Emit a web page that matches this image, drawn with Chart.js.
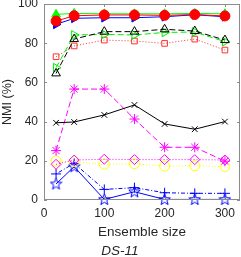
<!DOCTYPE html>
<html lang="en">
<head>
  <meta charset="UTF-8">
  <title>DS-11</title>
  <script src="https://cdn.jsdelivr.net/npm/chart.js"></script>
  <style>
    body { margin: 0; background: #fff; }
    #wrap { width: 241px; height: 257px; }
  </style>
</head>
<body>
<div id="wrap"><canvas id="nmiChart"></canvas></div>
<script>
  // ensemble sizes
  const ensembleSizes = [20, 50, 100, 150, 200, 250, 300];
  const xTicks = [0, 100, 200, 300];
  const yTicks = [0, 20, 40, 60, 80, 100];

  // NMI values
  const redCircle   = [91.3, 94.0, 94.4, 94.4, 94.2, 94.6, 93.9];
  const greenTri    = [94.7, 95.2, 95.0, 95.0, 95.0, 95.2, 95.0];
  const blueTri     = [89.6, 92.7, 93.0, 93.0, 93.5, 94.5, 93.5];
  const blackTri    = [64.6, 82.1, 85.9, 85.9, 87.1, 86.2, 81.6];
  const greenRight  = [67.5, 84.2, 84.5, 84.2, 85.5, 85.7, 80.8];
  const redSquare   = [73.1, 78.6, 81.6, 81.1, 79.9, 82.1, 76.5];
  const blackX      = [39.4, 39.8, 43.4, 48.5, 38.8, 36.1, 40.0];
  const magentaAst  = [25.2, 56.6, 56.6, 41.3, 26.9, 26.9, 19.8];
  const magentaDia  = [18.2, 20.4, 20.8, 20.6, 20.6, 20.6, 20.4];
  const yellowCirc  = [19.9, 19.6, 18.2, 18.5, 17.3, 17.5, 17.0];
  const bluePlus    = [13.3, 18.7, 5.4, 6.3, 3.7, 3.4, 3.4];
  const blueStar    = [8.2, 17.0, 0.3, 4.2, 0.3, 0.3, 0.3];

  // pentagram marker
  function makeStar(color) {
    const c = document.createElement('canvas');
    c.width = 13; c.height = 13;
    const g = c.getContext('2d');
    g.strokeStyle = color;
    g.lineWidth = 1;
    g.beginPath();
    for (let i = 0; i < 10; i++) {
      const r = i % 2 === 0 ? 6 : 2.5;
      const a = -Math.PI / 2 + i * Math.PI / 5;
      const px = 6.5 + r * Math.cos(a), py = 6.8 + r * Math.sin(a);
      if (i === 0) g.moveTo(px, py); else g.lineTo(px, py);
    }
    g.closePath();
    g.stroke();
    return c;
  }

  function series(data, color, style, opts) {
    return Object.assign({
      data: data.map((v, i) => ({ x: ensembleSizes[i], y: v })),
      borderColor: color,
      backgroundColor: 'transparent',
      pointBorderColor: color,
      pointBackgroundColor: 'transparent',
      borderWidth: 1,
      pointBorderWidth: 1,
      pointStyle: style,
      pointRadius: 4,
      borderDash: [],
      tension: 0,
      clip: 8
    }, opts || {});
  }

  // box with inward ticks like the original
  const boxPlugin = {
    id: 'box',
    afterDraw(chart) {
      const { ctx, chartArea: a, scales } = chart;
      ctx.save();
      ctx.strokeStyle = '#8c8c8c';
      ctx.lineWidth = 1;
      ctx.strokeRect(a.left + 0.5, a.top + 0.5, a.right - a.left - 1, a.bottom - a.top - 1);
      ctx.beginPath();
      xTicks.forEach(v => {
        const x = Math.round(scales.x.getPixelForValue(v)) + 0.5;
        ctx.moveTo(x, a.bottom); ctx.lineTo(x, a.bottom - 3);
        ctx.moveTo(x, a.top); ctx.lineTo(x, a.top + 3);
      });
      yTicks.forEach(v => {
        const y = Math.round(scales.y.getPixelForValue(v)) + 0.5;
        ctx.moveTo(a.left, y); ctx.lineTo(a.left + 3, y);
        ctx.moveTo(a.right, y); ctx.lineTo(a.right - 3, y);
      });
      ctx.stroke();
      ctx.restore();
    }
  };

  const font = 'Liberation Sans, Arial, sans-serif';

  new Chart(document.getElementById('nmiChart'), {
    type: 'line',
    data: {
      datasets: [
        series(redCircle, '#ff0000', 'circle', { pointBackgroundColor: '#ff0000', pointRadius: 5 }),
        series(greenTri, '#00ff00', 'triangle', { pointBackgroundColor: '#00ff00', pointRadius: 5 }),
        series(blueTri, '#0000ff', 'triangle', { pointBackgroundColor: '#0000ff', pointRadius: 5, pointRotation: 90 }),
        series(blackTri, '#000000', 'triangle', { borderDash: [6, 3], pointRadius: 5 }),
        series(greenRight, '#00ee00', 'triangle', { borderDash: [6, 3], pointRadius: 5, pointRotation: 90 }),
        series(redSquare, '#ff3030', 'rect', { borderDash: [1, 2] }),
        series(blackX, '#000000', 'crossRot', {}),
        series(magentaAst, '#ff00ff', 'star', { borderDash: [6, 3], pointRadius: 5 }),
        series(magentaDia, '#ff00ff', 'rectRot', { borderDash: [1, 2], pointRadius: 5 }),
        series(yellowCirc, '#ffff00', 'circle', { borderDash: [1, 2], pointRadius: 5 }),
        series(bluePlus, '#0000ff', 'cross', { borderDash: [1, 2, 4, 2], pointRadius: 5 }),
        series(blueStar, '#0000ff', makeStar('#0000ff'), {})
      ]
    },
    options: {
      responsive: true,
      maintainAspectRatio: false,
      animation: false,
      layout: { autoPadding: false, padding: { top: 4, right: 1, left: 0, bottom: 0 } },
      plugins: {
        legend: { display: false },
        tooltip: { enabled: false },
        title: {
          display: true,
          text: 'DS-11',
          position: 'bottom',
          color: '#262626',
          font: { family: font, size: 13.5, style: 'italic', weight: 'normal', lineHeight: 0.8 },
          padding: { top: 7, bottom: 0 }
        }
      },
      scales: {
        x: {
          type: 'linear',
          min: 0,
          max: 325,
          afterBuildTicks: axis => { axis.ticks = xTicks.map(v => ({ value: v })); },
          afterFit: axis => { axis.paddingLeft = 0; axis.paddingRight = 0; axis.height = 39.2; },
          grid: { display: false, drawTicks: false },
          border: { display: false },
          ticks: { color: '#262626', font: { family: font, size: 12, lineHeight: 1 }, padding: 8, maxRotation: 0 },
          title: { display: true, text: 'Ensemble size', color: '#262626', font: { family: font, size: 13.5, lineHeight: 1 }, padding: { top: 5, bottom: 0 } }
        },
        y: {
          min: 0,
          max: 100,
          afterBuildTicks: axis => { axis.ticks = yTicks.map(v => ({ value: v })); },
          afterFit: axis => { axis.paddingTop = 0; axis.paddingBottom = 0; axis.width = 44; },
          grid: { display: false, drawTicks: false },
          border: { display: false },
          ticks: { color: '#262626', font: { family: font, size: 12 }, padding: 6 },
          title: { display: true, text: 'NMI (%)', color: '#262626', font: { family: font, size: 12.5 }, padding: { top: 0, bottom: 2 } }
        }
      }
    },
    plugins: [boxPlugin]
  });
</script>
</body>
</html>
